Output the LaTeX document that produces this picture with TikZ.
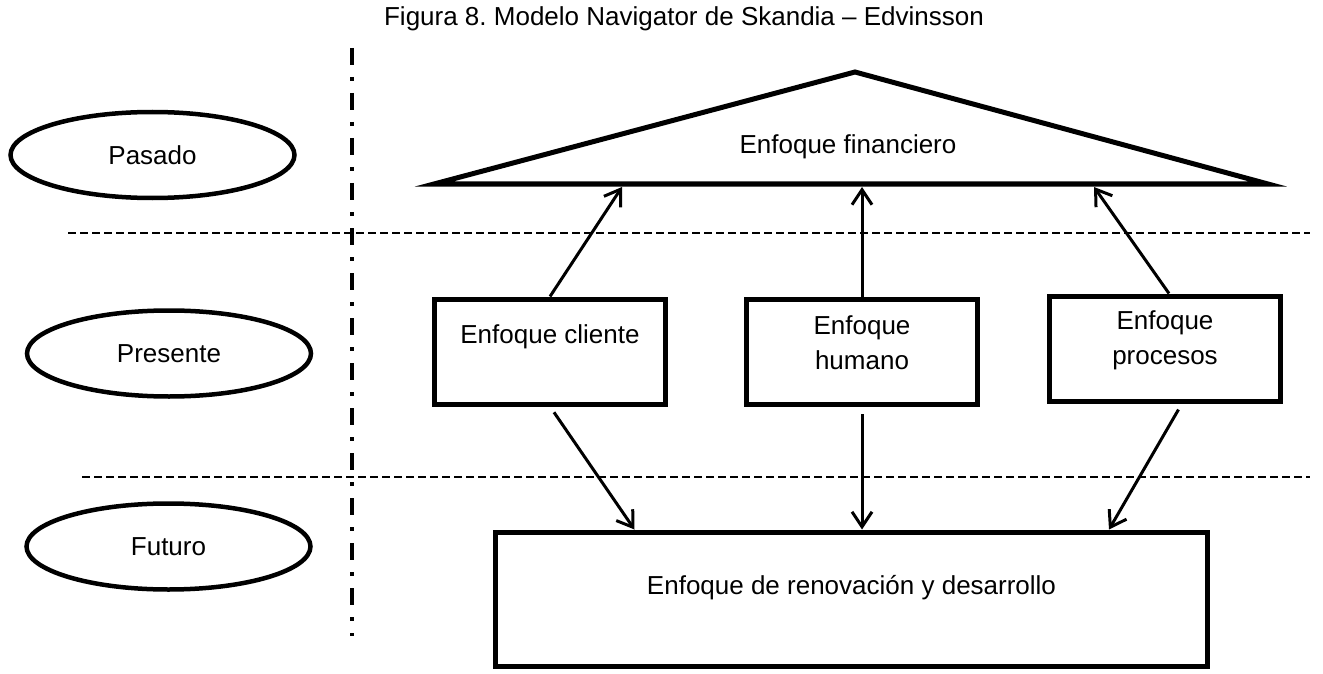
\documentclass[tikz,border=0pt]{standalone}
\usepackage{fontspec}
\setmainfont{Liberation Sans}
\usepackage{tikz}
\usetikzlibrary{calc}
\usetikzlibrary{positioning}
\usetikzlibrary{arrows.meta}
\usetikzlibrary{shapes.geometric}
\frenchspacing

\begin{document}
\begin{tikzpicture}[x=1pt, y=-1pt,
    every node/.style={font=\fontsize{26}{35}\selectfont},
    epoca/.style={ellipse, draw, line width=4.5pt, minimum width=284pt, minimum height=86pt, inner sep=0pt},
    caja/.style={rectangle, draw, line width=5pt, minimum width=231pt, minimum height=105pt, inner sep=0pt},
    flecha/.style={-{Straight Barb[length=15pt,width=20pt]}, line width=3pt},
    corte/.style={dash pattern=on 8pt off 4pt, line width=2.5pt}]
\useasboundingbox (0,0) rectangle (1323,674);

\node (titulo) at (684,19) {Figura 8. Modelo Navigator de Skandia – Edvinsson};

% lineas de corte
\draw[line width=3.5pt, dash pattern=on 17pt off 12pt on 4pt off 12pt] (352,48) -- (352,636);
\draw[corte] (68,233) -- (1310,233);
\draw[corte] (82,477) -- (1310,477);

\node[epoca] (pasado)   at (152.5,155) {Pasado};
\node[epoca] (presente) at (169,353.5) {Presente};
\node[epoca] (futuro)   at (168.5,546.5) {Futuro};

% triangulo financiero
\coordinate (finL) at (434,184);
\coordinate (finA) at (855,72);
\coordinate (finR) at (1268,184);
\draw[line width=5pt] (finL) -- (finA) -- (finR) -- cycle;
\node (fin) at (848,147) {Enfoque financiero};
\coordinate (b1) at (622,187);
\coordinate (b2) at (862,187);
\coordinate (b3) at (1094,187);

\node[caja, label={[yshift=14.5pt]center:Enfoque cliente}]            (cliente)  at (550,351.5) {};
\node[caja, label={[align=center,yshift=9.5pt]center:Enfoque\\humano}]  (humano)   at (862,352)   {};
\node[caja, label={[align=center,yshift=8pt]center:Enfoque\\procesos}]  (procesos) at (1165,348.5) {};
\node[caja, minimum width=712pt, minimum height=134pt,
      label={[yshift=11pt]center:Enfoque de renovación y desarrollo}]  (renov)    at (851.5,599) {};

\draw[flecha] (cliente.north) -- (b1);
\draw[flecha] (humano.north) -- (b2);
\draw[flecha] ([xshift=4pt]procesos.north) -- (b3);
\draw[flecha, shorten <=7pt] (cliente.south) -- ([xshift=-217pt]renov.north);
\draw[flecha, shorten <=7pt] (humano.south) -- ([xshift=10.5pt]renov.north);
\draw[flecha, shorten <=7pt] ([xshift=17pt]procesos.south) -- ([xshift=257.5pt]renov.north);
\end{tikzpicture}
\end{document}
